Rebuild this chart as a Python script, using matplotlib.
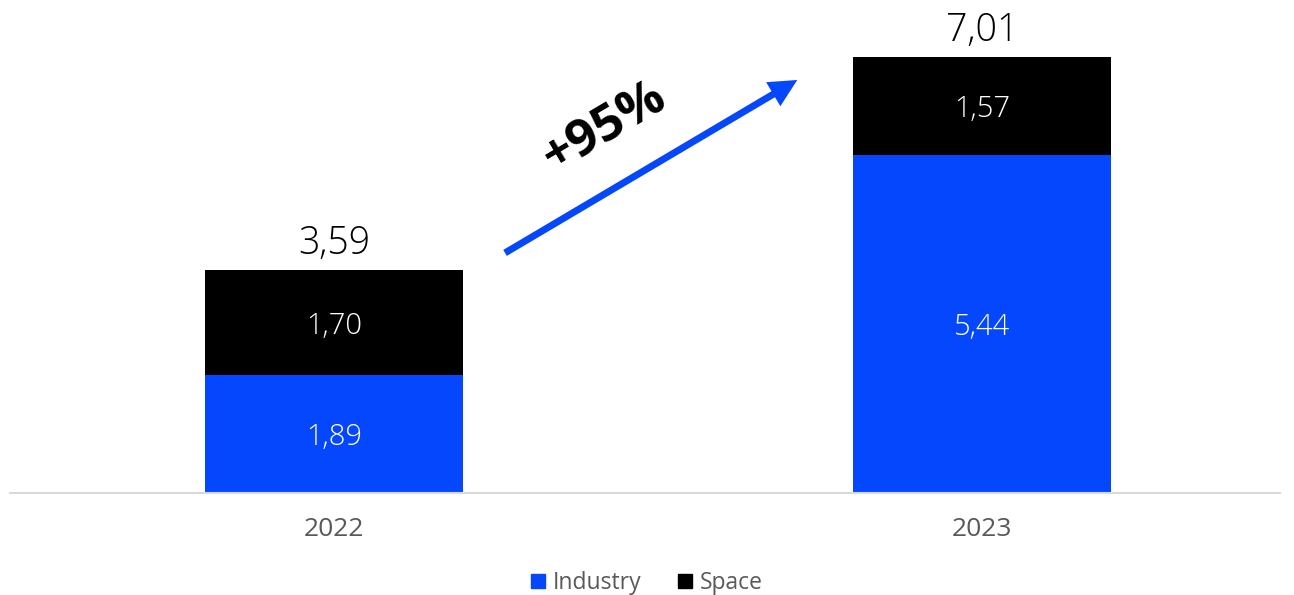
import matplotlib.pyplot as plt
from matplotlib.patches import Patch

years = ['2022', '2023']
industry = [1.89, 5.44]
space = [1.70, 1.57]
totals = [3.59, 7.01]
growth_label = '+95%'

BLUE = '#0447FC'
GREY = '#595959'

plt.rcParams['font.family'] = ['Open Sans', 'DejaVu Sans']

fig = plt.figure(figsize=(12.94, 5.95), dpi=100)
ax = fig.add_axes([10 / 1294, 102 / 595, 1270 / 1294, 493 / 595])

x = list(range(len(years)))
ax.bar(x, industry, width=0.398, color=BLUE, label='Industry')
ax.bar(x, space, width=0.398, bottom=industry, color='black', label='Space')

def fmt(v):
    return f'{v:.2f}'.replace('.', ',')

for i in x:
    ax.text(i, industry[i] / 2, fmt(industry[i]), ha='center', va='center_baseline',
            color='white', fontsize=21, fontweight='light')
    ax.text(i, industry[i] + space[i] / 2, fmt(space[i]), ha='center', va='center_baseline',
            color='white', fontsize=21, fontweight='light')
    ax.text(i, totals[i] + 0.11, fmt(totals[i]), ha='center', va='bottom',
            color='black', fontsize=27, fontweight='light')

# growth arrow
ax.annotate('', xy=(0.715, 6.64), xytext=(0.264, 3.86),
            arrowprops=dict(arrowstyle='-|>,head_length=1.2,head_width=0.6',
                            color=BLUE, lw=5, shrinkA=0, shrinkB=0,
                            capstyle='butt', joinstyle='miter'))
ax.text(0.418, 5.87, growth_label, rotation=30.6, ha='center', va='center',
        fontsize=37, fontweight='bold', color='black', rotation_mode='anchor')

ax.set_xlim(-0.5, 1.46)
ax.set_ylim(0, 7.926)
ax.set_xticks(x)
ax.set_xticklabels(years, fontsize=19, color=GREY)
ax.tick_params(axis='x', length=0, pad=17)
ax.set_yticks([])
for s in ['top', 'right', 'left']:
    ax.spines[s].set_visible(False)
ax.spines['bottom'].set_color('#D9D9D9')
ax.spines['bottom'].set_linewidth(1.5)

handles = [Patch(color=BLUE, label='Industry'), Patch(color='black', label='Space')]
fig.legend(handles=handles, loc='center', bbox_to_anchor=(0.5, 12 / 595),
           ncol=2, frameon=False, fontsize=16.5, labelcolor=GREY,
           handlelength=0.6, handleheight=0.6, handletextpad=0.35, columnspacing=1.6)

fig.savefig('out.png', dpi=100)
